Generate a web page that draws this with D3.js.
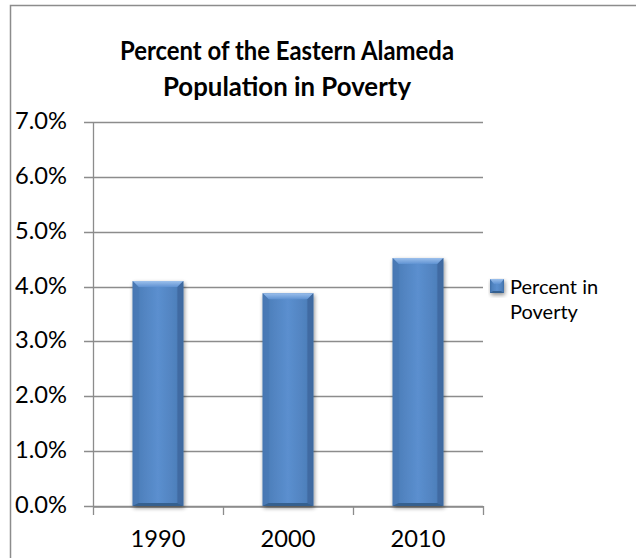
<!DOCTYPE html>
<html>
<head>
<meta charset="utf-8">
<script src="https://cdn.jsdelivr.net/npm/d3@7"></script>
<style>
  html, body { margin: 0; padding: 0; background: #fff; }
  svg { display: block; }
  text { font-family: Lato, "Open Sans", sans-serif; fill: #000; }
</style>
</head>
<body>
<svg id="chart" width="636" height="558"></svg>
<script>
// ---- data ----
const categories = ["1990", "2000", "2010"];
const values = [0.0410, 0.0388, 0.0452];
const seriesName = ["Percent in", "Poverty"];
const yTicks = [0, 0.01, 0.02, 0.03, 0.04, 0.05, 0.06, 0.07];
const titleLines = ["Percent of the Eastern Alameda", "Population in Poverty"];

const svg = d3.select("#chart");
const plot = { left: 93, right: 483, top: 122, bottom: 506 };

function fit(sel, target) {
  const node = sel.node();
  const fs = parseFloat(sel.attr("font-size"));
  const w = node.getComputedTextLength();
  if (w > 0) sel.attr("font-size", (fs * target / w).toFixed(2));
  return parseFloat(sel.attr("font-size"));
}

// frame
svg.append("rect").attr("x", 10.5).attr("y", 5.5).attr("width", 640).attr("height", 600)
  .attr("fill", "#fff").attr("stroke", "#8c8c8c").attr("stroke-width", 1.5);

// defs
const defs = svg.append("defs");
const g1 = defs.append("linearGradient").attr("id", "barGrad").attr("x1", 0).attr("x2", 1).attr("y1", 0).attr("y2", 0);
g1.append("stop").attr("offset", "0%").attr("stop-color", "#3f6ea8");
g1.append("stop").attr("offset", "15%").attr("stop-color", "#4f81bd");
g1.append("stop").attr("offset", "50%").attr("stop-color", "#5b8fcf");
g1.append("stop").attr("offset", "85%").attr("stop-color", "#4f81bd");
g1.append("stop").attr("offset", "100%").attr("stop-color", "#3f6ea8");
const g2 = defs.append("linearGradient").attr("id", "topGrad").attr("x1", 0).attr("x2", 0).attr("y1", 0).attr("y2", 1);
g2.append("stop").attr("offset", "0%").attr("stop-color", "#9cc0ec");
g2.append("stop").attr("offset", "100%").attr("stop-color", "#5f92d2");
const f = defs.append("filter").attr("id", "shadow").attr("x", "-20%").attr("y", "-20%").attr("width", "150%").attr("height", "150%");
f.append("feGaussianBlur").attr("in", "SourceAlpha").attr("stdDeviation", 2);
f.append("feOffset").attr("dx", 1).attr("dy", 2).attr("result", "ob");
f.append("feComponentTransfer").append("feFuncA").attr("type", "linear").attr("slope", 0.45);
const fm = f.append("feMerge");
fm.append("feMergeNode");
fm.append("feMergeNode").attr("in", "SourceGraphic");

// scales
const x = d3.scaleBand().domain(categories).range([plot.left, plot.right]).padding(0);
const y = d3.scaleLinear().domain([0, 0.07]).range([plot.bottom, plot.top]);

// gridlines (with outward tick)
svg.append("g").selectAll("line").data(yTicks).join("line")
  .attr("x1", plot.left - 9).attr("x2", plot.right)
  .attr("y1", d => Math.round(y(d)) + 0.5).attr("y2", d => Math.round(y(d)) + 0.5)
  .attr("stroke", "#8c8c8c").attr("stroke-width", 1.3);

// y axis line
svg.append("line").attr("x1", plot.left + 0.5).attr("x2", plot.left + 0.5)
  .attr("y1", plot.top).attr("y2", plot.bottom)
  .attr("stroke", "#8c8c8c").attr("stroke-width", 1.3);

// x axis via d3
const xAxis = d3.axisBottom(x).tickSize(0).tickSizeOuter(0).tickFormat(() => "");
const xg = svg.append("g").attr("transform", `translate(0,${Math.round(plot.bottom) + 0.5})`).call(xAxis);
xg.select(".domain").attr("stroke", "#8c8c8c").attr("stroke-width", 1.3);
xg.selectAll(".tick").remove();
const bounds = [plot.left].concat(categories.map(c => x(c) + x.bandwidth()));
svg.append("g").selectAll("line").data(bounds).join("line")
  .attr("x1", d => Math.round(d) + 0.5).attr("x2", d => Math.round(d) + 0.5)
  .attr("y1", plot.bottom).attr("y2", plot.bottom + 9)
  .attr("stroke", "#8c8c8c").attr("stroke-width", 1.3);

// y labels
const yl = svg.append("g").selectAll("text").data(yTicks).join("text")
  .attr("x", 67).attr("y", d => y(d) + 7)
  .attr("text-anchor", "end").attr("font-size", 18)
  .text(d => d3.format(".1%")(d));
const labelFs = fit(d3.select(yl.nodes()[7]), 52);
yl.attr("font-size", labelFs);

// x labels
svg.append("g").selectAll("text").data(categories).join("text")
  .attr("x", d => x(d) + x.bandwidth() / 2).attr("y", 547)
  .attr("text-anchor", "middle").attr("font-size", labelFs).text(d => d);

// bars
const bw = x.bandwidth() * 0.39;
const bars = svg.append("g").selectAll("g").data(categories).join("g")
  .attr("filter", "url(#shadow)");
bars.each(function (c, i) {
  const g = d3.select(this);
  const x0 = x(c) + (x.bandwidth() - bw) / 2;
  const x1 = x0 + bw;
  const yt = y(values[i]);
  const yb = y(0);
  const bev = 6;
  g.append("rect").attr("x", x0).attr("y", yt).attr("width", bw).attr("height", yb - yt)
    .attr("fill", "url(#barGrad)");
  g.append("path").attr("d", `M${x0},${yt}L${x1},${yt}L${x1 - bev},${yt + bev}L${x0 + bev},${yt + bev}Z`)
    .attr("fill", "url(#topGrad)");
  g.append("path").attr("d", `M${x0},${yt}L${x0 + bev},${yt + bev}L${x0 + bev},${yb - 3}L${x0},${yb}Z`)
    .attr("fill", "#4a7ab6").attr("opacity", 0.7);
  g.append("path").attr("d", `M${x1},${yt}L${x1 - bev},${yt + bev}L${x1 - bev},${yb - 3}L${x1},${yb}Z`)
    .attr("fill", "#3d679c").attr("opacity", 0.75);
  g.append("path").attr("d", `M${x0},${yb}L${x0 + bev},${yb - 3}L${x1 - bev},${yb - 3}L${x1},${yb}Z`)
    .attr("fill", "#36608f");
});

// legend
const lg = svg.append("g");
const mx = 490, my = 279, ms = 14;
const lm = lg.append("g").attr("filter", "url(#shadow)");
lm.append("rect").attr("x", mx).attr("y", my).attr("width", ms).attr("height", ms).attr("fill", "url(#barGrad)");
lm.append("path").attr("d", `M${mx},${my}L${mx + ms},${my}L${mx + ms - 4},${my + 5}L${mx + 4},${my + 5}Z`).attr("fill", "url(#topGrad)");
lm.append("path").attr("d", `M${mx},${my + ms}L${mx + 3},${my + ms - 2}L${mx + ms - 3},${my + ms - 2}L${mx + ms},${my + ms}Z`).attr("fill", "#36608f");
lg.selectAll("text").data(seriesName).join("text")
  .attr("x", 510).attr("y", (d, i) => 294 + i * 25).attr("font-size", 20).text(d => d);

// title: taller glyphs, condensed to the reference widths
const titleWidths = [334, 248];
svg.append("g").selectAll("text").data(titleLines).join("text")
  .attr("x", 287).attr("y", (d, i) => 60 + i * 36)
  .attr("text-anchor", "middle").attr("font-weight", "bold").attr("font-size", 26)
  .attr("textLength", (d, i) => titleWidths[i]).attr("lengthAdjust", "spacingAndGlyphs")
  .text(d => d);
</script>
</body>
</html>
